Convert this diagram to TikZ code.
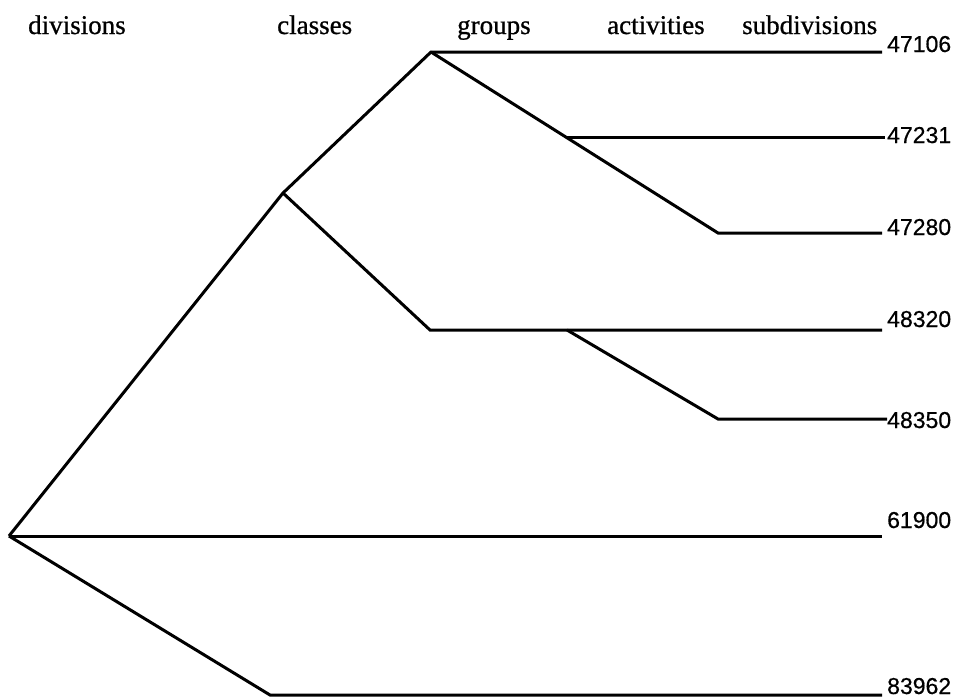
\documentclass[tikz,border=0pt]{standalone}
\usepackage{fontspec}
\usepackage{tikz}
\newfontfamily\headfont[FakeBold=0.8]{Liberation Serif}
\newfontfamily\leaffont[FakeBold=0.6]{Liberation Sans}
\tikzset{
  branch/.style={line width=3pt, line join=miter},
  head/.style={font=\headfont\fontsize{27}{30}\selectfont, anchor=base west, inner sep=0pt},
  leaf/.style={font=\leaffont\fontsize{23}{26}\selectfont, anchor=base west, inner sep=0pt}
}

\begin{document}
\begin{tikzpicture}[x=1pt, y=-1pt]
        \useasboundingbox (0,0) rectangle (954,699);
        % level headings
        \node[head] (hdiv) at (28,34) {divisions};
        \node[head] (hcla) at (277,34) {classes};
        \node[head] (hgro) at (457,34) {groups};
        \node[head] (hact) at (607,34) {activities};
        \node[head] (hsub) at (742,34) {subdivisions};
        % branching points
        \coordinate (root) at (9,536);
        \coordinate (c1) at (283,193);
        \coordinate (g1) at (431,52);
        \coordinate (b1) at (567,137.5);
        \coordinate (a1) at (718,233);
        \coordinate (g2) at (430,330);
        \coordinate (b2) at (567,330);
        \coordinate (a2) at (718,419);
        \coordinate (h1) at (270,695);
        % leaf ends
        \coordinate (e1) at (882,52);
        \coordinate (e2) at (885,137.5);
        \coordinate (e3) at (882,233);
        \coordinate (e4) at (882,330);
        \coordinate (e5) at (887,419);
        \coordinate (e6) at (882,536);
        \coordinate (e7) at (882,695);
        % codes
        \node[leaf] (l47106) at (887,52) {47106};
        \node[leaf] (l47231) at (887,143) {47231};
        \node[leaf] (l47280) at (887,235) {47280};
        \node[leaf] (l48320) at (887,327) {48320};
        \node[leaf] (l48350) at (887,428) {48350};
        \node[leaf] (l61900) at (887,528) {61900};
        \node[leaf] (l83962) at (887,694) {83962};
        % tree
        \draw[branch] (root) -- (c1) -- (g1) -- (e1);
        \draw[branch] (g1) -- (a1) -- (e3);
        \draw[branch] (b1) -- (e2);
        \draw[branch] (c1) -- (g2) -- (e4);
        \draw[branch] (b2) -- (a2) -- (e5);
        \draw[branch] (root) -- (e6);
        \draw[branch] (root) -- (h1) -- (e7);
      \end{tikzpicture}
\end{document}
